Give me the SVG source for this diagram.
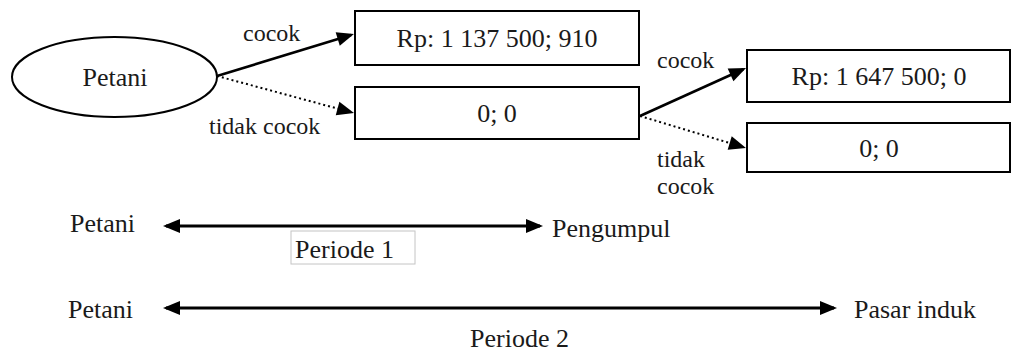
<svg xmlns="http://www.w3.org/2000/svg" width="1013" height="354" viewBox="0 0 1013 354">
  <style>
    text { font-family: "Liberation Serif", "Times New Roman", serif; fill: #1a1a1a; }
    .big { font-size: 26px; }
    .lbl { font-size: 24px; }
    .shape { fill: #ffffff; stroke: #000000; stroke-width: 2; }
    .solid { fill: none; stroke: #000000; stroke-width: 2.6; marker-end: url(#head); }
    .dotted { fill: none; stroke: #000000; stroke-width: 2; stroke-dasharray: 2 3; marker-end: url(#head); }
    .span { fill: none; stroke: #000000; stroke-width: 3; marker-start: url(#head); marker-end: url(#head); }
  </style>
  <defs>
    <marker id="head" markerUnits="userSpaceOnUse" markerWidth="18" markerHeight="16" refX="14" refY="7" orient="auto-start-reverse" overflow="visible">
      <path d="M0,0 L17,7 L0,14 z" fill="#000000" stroke="none"/>
    </marker>
  </defs>

  <rect width="1013" height="354" fill="#ffffff"/>

  <!-- decision tree nodes -->
  <g id="petani">
    <ellipse class="shape" cx="114.5" cy="77" rx="102.5" ry="40"/>
    <text class="big" x="115" y="86" text-anchor="middle">Petani</text>
  </g>
  <g id="pengumpul-cocok">
    <rect class="shape" x="355" y="11" width="284" height="54"/>
    <text class="big" x="497" y="47" text-anchor="middle">Rp: 1 137 500; 910</text>
  </g>
  <g id="pengumpul-tidak">
    <rect class="shape" x="355" y="87" width="284" height="52"/>
    <text class="big" x="497" y="122" text-anchor="middle">0; 0</text>
  </g>
  <g id="pasar-cocok">
    <rect class="shape" x="747" y="50" width="263" height="52"/>
    <text class="big" x="879" y="85" text-anchor="middle">Rp: 1 647 500; 0</text>
  </g>
  <g id="pasar-tidak">
    <rect class="shape" x="747" y="123" width="263" height="49"/>
    <text class="big" x="879" y="157" text-anchor="middle">0; 0</text>
  </g>

  <!-- branches of the tree -->
  <g id="connectors">
    <line class="solid" x1="217" y1="76" x2="351.1" y2="34.9"/>
    <line class="dotted" x1="217" y1="76" x2="351.1" y2="112.2"/>
    <line class="solid" x1="640" y1="116" x2="743.3" y2="69.2"/>
    <line class="dotted" x1="640" y1="116" x2="743.1" y2="147.1"/>
  </g>

  <g id="branch-labels">
    <text class="lbl" x="243" y="41">cocok</text>
    <text class="lbl" x="209" y="134">tidak cocok</text>
    <text class="lbl" x="657" y="68">cocok</text>
    <text class="lbl" x="657" y="167">tidak</text>
    <text class="lbl" x="657" y="194">cocok</text>
  </g>

  <!-- time periods -->
  <g id="periode-1">
    <text class="big" x="70" y="232">Petani</text>
    <line class="span" x1="166" y1="226" x2="540" y2="226"/>
    <text class="big" x="552" y="237">Pengumpul</text>
    <rect x="291" y="231" width="124" height="33" fill="#ffffff" stroke="#c4c4c4" stroke-width="1"/>
    <text class="big" x="295" y="258">Periode 1</text>
  </g>
  <g id="periode-2">
    <text class="big" x="68" y="318">Petani</text>
    <line class="span" x1="166" y1="308" x2="834" y2="308"/>
    <text class="big" x="854" y="318">Pasar induk</text>
    <text class="big" x="470" y="347">Periode 2</text>
  </g>
</svg>
